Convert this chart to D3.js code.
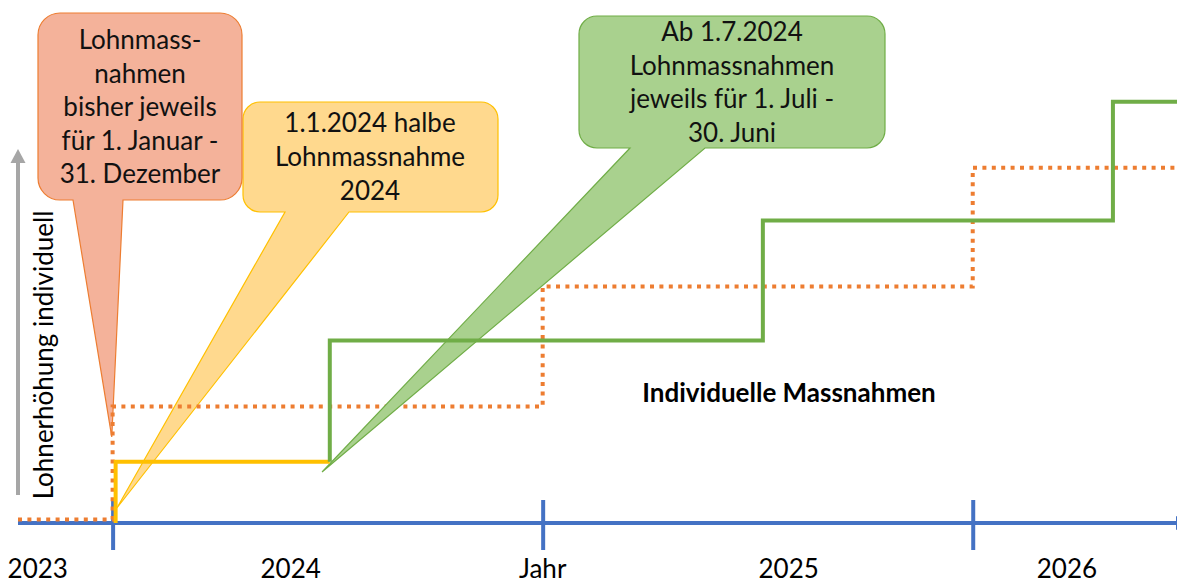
<!DOCTYPE html>
<html lang="de">
<head>
<meta charset="utf-8">
<title>Lohnmassnahmen</title>
<style>
  body { margin: 0; background: #fff; }
  svg { display: block; font-family: Lato, "Open Sans", sans-serif; }
</style>
</head>
<body>
<div id="svg_container"></div>
<script src="https://cdn.jsdelivr.net/npm/d3@7"></script>
<script>
// achse: jahreswechsel und beschriftung
var tickYears = [2024, 2025, 2026];
var axisLabels = ["2023", "2024", "Jahr", "2025", "2026"];
var axisLabelYears = [2023.826, 2024.414, 2025.0, 2025.572, 2026.219];

// bisher: lohnmassnahme jeweils 1. Januar (gepunktet)
var oldYears = [2023.78, 2024.0, 2025.0, 2026.0, 2026.475];
var oldLevels = [0.03, 0.97, 1.97, 2.96, 2.96];

// 1.1.2024 halbe lohnmassnahme
var halfYears = [2024.007, 2024.007, 2024.505];
var halfLevels = [0, 0.51, 0.51];

// neu: ab 1.7.2024 jeweils 1. Juli
var newYears = [2024.505, 2024.505, 2025.512, 2026.326, 2026.475];
var newLevels = [0.51, 1.52, 2.52, 3.51, 3.51];

// sprechblasen: text und wohin die spitze zeigt
var oldNote = ["Lohnmass-", "nahmen", "bisher jeweils", "für 1. Januar -", "31. Dezember"];
var halfNote = ["1.1.2024 halbe", "Lohnmassnahme", "2024"];
var newNote = ["Ab 1.7.2024", "Lohnmassnahmen", "jeweils für 1. Juli -", "30. Juni"];
var noteTipYears = [2023.998, 2024.01, 2024.487];
var noteTipLevels = [0.717, 0.125, 0.425];

var yLabel = "Lohnerhöhung individuell";
var midLabel = "Individuelle Massnahmen";

var width = 1177, height = 583;

var svg = d3.select("#svg_container").append("svg")
    .attr("width", width)
    .attr("height", height);

var x = d3.scaleLinear().domain([2023.78, 2026.475]).range([18, 1177]);
var y = d3.scaleLinear().domain([0, 1]).range([523, 403]);

var blue = "#4472C4";

// pfeilspitzen
var defs = svg.append("defs");
defs.append("marker")
    .attr("id", "blueHead")
    .attr("markerUnits", "userSpaceOnUse")
    .attr("markerWidth", 20).attr("markerHeight", 20)
    .attr("refX", 0).attr("refY", 10)
    .attr("orient", "auto")
  .append("path")
    .attr("d", "M0,3 L16,10 L0,17 Z")
    .attr("fill", blue);
defs.append("marker")
    .attr("id", "greyHead")
    .attr("markerUnits", "userSpaceOnUse")
    .attr("markerWidth", 20).attr("markerHeight", 20)
    .attr("refX", 0).attr("refY", 10)
    .attr("orient", "auto")
  .append("path")
    .attr("d", "M0,2.5 L14,10 L0,17.5 Z")
    .attr("fill", "#A6A6A6");

// zeitachse
svg.append("line")
    .attr("x1", x(2023.78)).attr("y1", y(0))
    .attr("x2", x(2026.475) - 1).attr("y2", y(0))
    .attr("stroke", blue).attr("stroke-width", 4)
    .attr("marker-end", "url(#blueHead)");

var tickAxis = svg.append("g")
    .attr("transform", "translate(0,500)")
    .call(d3.axisBottom(x).tickValues(tickYears).tickSize(50).tickFormat(""));
tickAxis.select(".domain").remove();
tickAxis.selectAll(".tick line")
    .attr("stroke", blue).attr("stroke-width", 4);

svg.append("g").selectAll("text")
    .data(axisLabels)
  .enter().append("text")
    .attr("x", function(d, i) { return x(axisLabelYears[i]); })
    .attr("y", 578)
    .attr("text-anchor", "middle")
    .attr("font-size", 26)
    .attr("fill", "#000")
    .text(function(d) { return d; });

// y-pfeil und beschriftung
svg.append("line")
    .attr("x1", 18).attr("y1", 495)
    .attr("x2", 18).attr("y2", 163)
    .attr("stroke", "#A6A6A6").attr("stroke-width", 4)
    .attr("marker-end", "url(#greyHead)");

svg.append("text")
    .attr("transform", "translate(53,355) rotate(-90)")
    .attr("text-anchor", "middle")
    .attr("font-size", 26)
    .text(yLabel);

// sprechblase: abgerundetes rechteck mit spitze unten
var callout = function(b, tip) {
    var r = b.r;
    return "M" + (b.x0 + r) + "," + b.y0 +
        " H" + (b.x1 - r) +
        " A" + r + "," + r + " 0 0 1 " + b.x1 + "," + (b.y0 + r) +
        " V" + (b.y1 - r) +
        " A" + r + "," + r + " 0 0 1 " + (b.x1 - r) + "," + b.y1 +
        " H" + b.br +
        " L" + tip[0] + "," + tip[1] +
        " L" + b.bl + "," + b.y1 +
        " H" + (b.x0 + r) +
        " A" + r + "," + r + " 0 0 1 " + b.x0 + "," + (b.y1 - r) +
        " V" + (b.y0 + r) +
        " A" + r + "," + r + " 0 0 1 " + (b.x0 + r) + "," + b.y0 + " Z";
};

var drawNote = function(layer, b, i, fill, stroke) {
    layer.append("path")
        .attr("d", callout(b, [x(noteTipYears[i]), y(noteTipLevels[i])]))
        .attr("fill", fill)
        .attr("stroke", stroke)
        .attr("stroke-width", 1.2);
};

var noteText = function(lines, cx, top, step) {
    svg.append("g").selectAll("text")
        .data(lines)
      .enter().append("text")
        .attr("x", cx)
        .attr("y", function(d, i) { return top + i * step; })
        .attr("text-anchor", "middle")
        .attr("font-size", 26)
        .attr("fill", "#111")
        .text(function(d) { return d; });
};

var halfBox = {x0: 243, y0: 102, x1: 498, y1: 212, r: 17, bl: 285, br: 349};
var oldBox = {x0: 38, y0: 13, x1: 242, y1: 200, r: 22, bl: 73, br: 123};
var newBox = {x0: 579, y0: 16, x1: 885, y1: 148, r: 18, bl: 630, br: 705};

var lineGen = function(xs, vs, curve) {
    return d3.line()
        .x(function(d, i) { return x(xs[i]); })
        .y(function(d, i) { return y(vs[i]); })
        .curve(curve)(xs);
};

drawNote(svg, halfBox, 1, "#FFD98E", "#FFC000");
drawNote(svg, oldBox, 0, "#F4B29A", "#ED7D31");

// bisher (gepunktet)
svg.append("path")
    .attr("d", lineGen(oldYears, oldLevels, d3.curveStepAfter))
    .attr("fill", "none")
    .attr("stroke", "#ED7D31")
    .attr("stroke-width", 4)
    .attr("stroke-dasharray", "4,5.4");

drawNote(svg, newBox, 2, "#A9D18E", "#70AD47");

svg.append("path")
    .attr("d", lineGen(halfYears, halfLevels, d3.curveLinear))
    .attr("fill", "none")
    .attr("stroke", "#FFC000")
    .attr("stroke-width", 4);

svg.append("path")
    .attr("d", lineGen(newYears, newLevels, d3.curveStepAfter))
    .attr("fill", "none")
    .attr("stroke", "#70AD47")
    .attr("stroke-width", 4);

noteText(oldNote, 140, 49, 33.5);
noteText(halfNote, 370, 132, 34);
noteText(newNote, 732, 41, 33.7);

svg.append("text")
    .attr("x", 789).attr("y", 402)
    .attr("text-anchor", "middle")
    .attr("font-size", 26)
    .attr("font-weight", "bold")
    .text(midLabel);
</script>
</body>
</html>
